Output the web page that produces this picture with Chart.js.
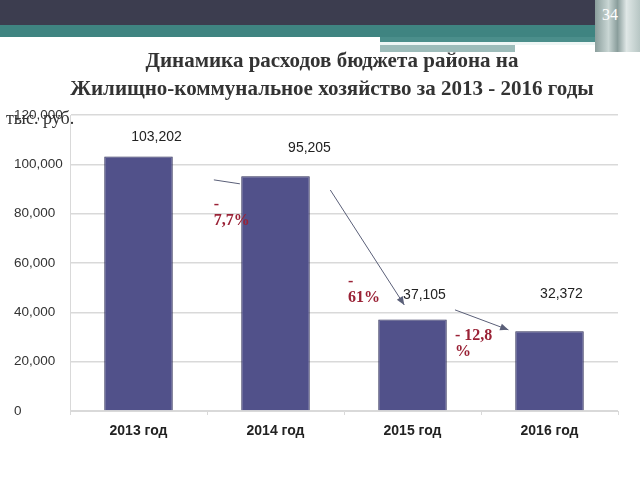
<!DOCTYPE html>
<html>
<head>
<meta charset="utf-8">
<script src="https://cdn.jsdelivr.net/npm/chart.js@4/dist/chart.umd.min.js"></script>
<style>
  html, body { margin: 0; padding: 0; background: #fff; }
  #wrap { position: relative; width: 640px; height: 480px; overflow: hidden; }
  .band { position: absolute; }
  #title {
    position: absolute; left: 12px; top: 46px; width: 640px;
    text-align: center; font-family: "Liberation Serif", serif; font-weight: bold;
    font-size: 21px; line-height: 28px; color: #333;
  }
  #units {
    position: absolute; left: 6px; top: 108px;
    font-family: "Liberation Serif", serif; font-size: 18px; color: #333;
  }
  #page {
    position: absolute; left: 602px; top: 6px;
    font-family: "Liberation Serif", serif; font-size: 16px; color: #fff;
  }
  canvas { position: absolute; left: 0; top: 0; }
</style>
</head>
<body>
<div id="wrap">
  <div class="band" style="left:0;top:0;width:640px;height:25px;background:#3c3d4f"></div>
  <div class="band" style="left:0;top:25px;width:640px;height:12px;background:#3f8481"></div>
  <div class="band" style="left:380px;top:37px;width:215px;height:5px;background:#4b8e8b"></div>
  <div class="band" style="left:380px;top:42px;width:215px;height:3px;background:#eef6f5"></div>
  <div class="band" style="left:380px;top:45px;width:135px;height:7px;background:#9dbcba"></div>
  <div class="band" style="left:595px;top:0;width:45px;height:52px;background:linear-gradient(90deg,#8a9e9c,#c9d6d4 30%,#8a9e9c 50%,#dfe7e6 70%,#b7c6c4)"></div>
  <div id="page">34</div>
  <canvas id="chart" width="640" height="480"></canvas>
  <div id="title">Динамика расходов бюджета района на<br>Жилищно-коммунальное хозяйство за 2013 - 2016 годы</div>
  <div id="units">тыс. руб.</div>
</div>
<script>
// chart data
var categories = ['2013 год', '2014 год', '2015 год', '2016 год'];
var spending = [103202, 95205, 37105, 32372];
var changeLabels = [['-', '7,7%'], ['-', '61%'], ['- 12,8', '%']];

// value label offsets (px) from bar top centre
var labelShift = [[18, -19], [34, -28], [12, -24], [12, -37]];

function fmt(v) {
  return v.toString().replace(/\B(?=(\d{3})+(?!\d))/g, ',');
}

var annotations = {
  id: 'annotations',
  afterDatasetsDraw: function (chart) {
    var ctx = chart.ctx;
    var xs = chart.scales.x;
    var ys = chart.scales.y;
    var meta = chart.getDatasetMeta(0);

    ctx.save();
    // value labels
    ctx.font = '14px "Liberation Sans", Arial, sans-serif';
    ctx.fillStyle = '#222';
    ctx.textAlign = 'center';
    ctx.textBaseline = 'middle';
    meta.data.forEach(function (bar, i) {
      ctx.fillText(fmt(spending[i]), bar.x + labelShift[i][0], bar.y + labelShift[i][1]);
    });

    // arrows between bars: [from index, from value, to index, to value, head]
    var arrows = [
      [0.55, 93700, 0.74, 92100, false],
      [1.40, 89600, 1.94, 43000, true],
      [2.31, 41000, 2.70, 32900, true]
    ];
    ctx.strokeStyle = '#5a5f78';
    ctx.fillStyle = '#5a5f78';
    ctx.lineWidth = 1;
    arrows.forEach(function (a) {
      var x1 = xs.getPixelForValue(a[0]), y1 = ys.getPixelForValue(a[1]);
      var x2 = xs.getPixelForValue(a[2]), y2 = ys.getPixelForValue(a[3]);
      ctx.beginPath();
      ctx.moveTo(x1, y1);
      ctx.lineTo(x2, y2);
      ctx.stroke();
      if (a[4]) {
        var ang = Math.atan2(y2 - y1, x2 - x1);
        ctx.beginPath();
        ctx.moveTo(x2, y2);
        ctx.lineTo(x2 - 9 * Math.cos(ang - 0.4), y2 - 9 * Math.sin(ang - 0.4));
        ctx.lineTo(x2 - 9 * Math.cos(ang + 0.4), y2 - 9 * Math.sin(ang + 0.4));
        ctx.closePath();
        ctx.fill();
      }
    });

    // percent changes
    var spots = [[0.55, 83500], [1.53, 52500], [2.31, 30500]];
    ctx.font = 'bold 16px "Liberation Serif", serif';
    ctx.fillStyle = '#9a2236';
    ctx.textAlign = 'left';
    spots.forEach(function (s, i) {
      var x = xs.getPixelForValue(s[0]);
      var y = ys.getPixelForValue(s[1]);
      ctx.fillText(changeLabels[i][0], x, y);
      ctx.fillText(changeLabels[i][1], x, y + 16);
    });
    ctx.restore();
  }
};

new Chart(document.getElementById('chart'), {
  type: 'bar',
  data: {
    labels: categories,
    datasets: [{
      data: spending,
      backgroundColor: '#51518a',
      borderColor: '#2b2b55',
      borderWidth: 1,
      barPercentage: 0.5,
      categoryPercentage: 1
    }]
  },
  options: {
    responsive: false,
    animation: false,
    layout: { padding: { left: 14, right: 22, top: 115, bottom: 0 } },
    plugins: {
      legend: { display: false },
      tooltip: { enabled: false }
    },
    scales: {
      x: {
        afterFit: function (scale) { scale.height = 69; },
        grid: { drawOnChartArea: false, tickLength: 4, color: '#d9d9d9', offset: true },
        border: { color: '#d9d9d9' },
        ticks: {
          padding: 8,
          color: '#222',
          font: { family: '"Liberation Sans", Arial, sans-serif', size: 14, weight: 'bold' }
        }
      },
      y: {
        min: 0,
        max: 120000,
        afterFit: function (scale) { scale.width = 56; },
        grid: { color: '#d9d9d9', drawTicks: false, lineWidth: 1.5 },
        border: { color: '#d9d9d9' },
        ticks: {
          stepSize: 20000,
          crossAlign: 'far',
          padding: 6,
          color: '#333',
          font: { family: '"Liberation Sans", Arial, sans-serif', size: 13.5 },
          callback: function (v) { return fmt(v); }
        }
      }
    }
  },
  plugins: [annotations]
});
</script>
</body>
</html>
